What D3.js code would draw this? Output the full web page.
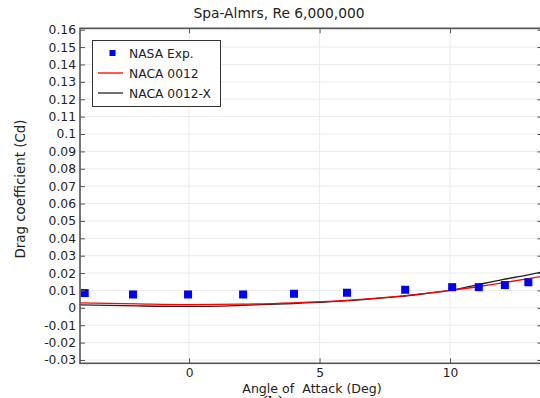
<!DOCTYPE html>
<html><head><meta charset="utf-8">
<script src="https://cdn.jsdelivr.net/npm/d3@7"></script>
<style>body{margin:0;background:#fff}svg{display:block}text{font-family:"DejaVu Sans",sans-serif;fill:#222}</style>
</head><body><svg id="c" width="540" height="398"></svg>
<script>
const expAngle = [-4.0, -2.15, -0.04, 2.07, 4.02, 6.05, 8.28, 10.08, 11.1, 12.1, 13.0];
const expCd    = [0.0085, 0.0077, 0.0077, 0.0077, 0.0081, 0.0087, 0.0104, 0.0119, 0.0119, 0.0131, 0.0147];
const lineAngle = [-4.18, -2, 0, 2, 4, 6, 8, 9, 10, 11, 12, 13, 13.5];
const naca0012  = [0.0029, 0.0023, 0.0019, 0.0021, 0.0029, 0.0043, 0.0066, 0.0082, 0.0100, 0.0120, 0.0143, 0.0168, 0.0181];
const naca0012X = [0.0017, 0.0011, 0.0008, 0.0014, 0.0025, 0.0040, 0.0064, 0.0081, 0.0100, 0.0131, 0.0162, 0.0190, 0.0206];
const xTicks = [0, 5, 10];
const yTicks = [-0.03,-0.02,-0.01,0,0.01,0.02,0.03,0.04,0.05,0.06,0.07,0.08,0.09,0.1,0.11,0.12,0.13,0.14,0.15,0.16];
const yTickLabels = ["-0.03","-0.02","-0.01","0","0.01","0.02","0.03","0.04","0.05","0.06","0.07","0.08","0.09","0.1","0.11","0.12","0.13","0.14","0.15","0.16"];
const legendLabels = ["NASA Exp.", "NACA 0012", "NACA 0012-X"];

const svg = d3.select("#c");
const L = 80, R = 541.4, T = 28.3, B = 363.3;
const x = d3.scaleLinear().domain([-4.18, 13.5]).range([L, R]);
const y = d3.scaleLinear().domain([-0.0319, 0.1608]).range([B, T]);

// grid
const g = svg.append("g");
g.selectAll(".gx").data(xTicks).enter().append("line")
  .attr("x1", d => x(d)).attr("x2", d => x(d)).attr("y1", T).attr("y2", B)
  .attr("stroke", "#ebebeb").attr("stroke-width", 1);
g.selectAll(".gy").data(yTicks).enter().append("line")
  .attr("x1", L).attr("x2", R).attr("y1", d => y(d)).attr("y2", d => y(d))
  .attr("stroke", "#ebebeb").attr("stroke-width", 1);

// lines
const line = d3.line().x((d, i) => x(lineAngle[i])).y(d => y(d)).curve(d3.curveMonotoneX);
svg.append("path").datum(naca0012X).attr("d", line).attr("fill", "none").attr("stroke", "#222").attr("stroke-width", 1.3);
svg.append("path").datum(naca0012).attr("d", line).attr("fill", "none").attr("stroke", "#ff0000").attr("stroke-width", 1.3);

// points
svg.selectAll(".pt").data(expCd).enter().append("rect")
  .attr("x", (d, i) => x(expAngle[i]) - 4).attr("y", d => y(d) - 4)
  .attr("width", 8).attr("height", 8).attr("fill", "#0000ff");

// axes
const axisCol = "#555";
const yAxis = d3.axisLeft(y).tickValues(yTicks).tickFormat((d, i) => yTickLabels[i]).tickSize(-5).tickPadding(4);
const ya = svg.append("g").attr("transform", `translate(${L},0)`).call(yAxis);
const yaR = svg.append("g").attr("transform", `translate(${R},0)`).call(d3.axisRight(y).tickValues(yTicks).tickFormat("").tickSize(-4));
const xAxis = d3.axisBottom(x).tickValues(xTicks).tickFormat(d3.format("d")).tickSize(-5).tickPadding(5);
const xa = svg.append("g").attr("transform", `translate(0,${B})`).call(xAxis);
const xaT = svg.append("g").attr("transform", `translate(0,${T})`).call(d3.axisTop(x).tickValues(xTicks).tickFormat("").tickSize(-5));
[ya, yaR, xa, xaT].forEach(a => {
  a.select(".domain").remove();
  a.selectAll("line").attr("stroke", axisCol).attr("stroke-width", 1);
  a.selectAll("text").attr("font-size", 12.3).attr("fill", "#222").attr("font-family", "DejaVu Sans, sans-serif");
});
svg.append("rect").attr("x", L).attr("y", T).attr("width", R - L).attr("height", B - T)
  .attr("fill", "none").attr("stroke", axisCol).attr("stroke-width", 1.6);

// titles
svg.append("text").attr("x", 279).attr("y", 18).attr("text-anchor", "middle").attr("font-size", 13.8).text("Spa-Almrs, Re 6,000,000");
svg.append("text").attr("x", 312).attr("y", 392.5).attr("text-anchor", "middle").attr("font-size", 12.6).attr("xml:space", "preserve").style("white-space", "pre").text("Angle of  Attack (Deg)");
svg.append("text").attr("transform", "translate(25,189) rotate(-90)").attr("text-anchor", "middle").attr("font-size", 13.4).text("Drag coefficient (Cd)");
svg.append("text").attr("x", 273).attr("y", 410).attr("text-anchor", "middle").attr("font-size", 20).style("font-family", "Liberation Serif, serif").style("fill", "#000").text("(b)");

// legend
const lg = svg.append("g");
lg.append("rect").attr("x", 92.5).attr("y", 40.5).attr("width", 128).attr("height", 66).attr("fill", "#fff").attr("stroke", "#333").attr("stroke-width", 1);
const ly = [53, 73, 93];
lg.append("rect").attr("x", 109.5).attr("y", ly[0] - 3).attr("width", 6).attr("height", 6).attr("fill", "#0000ff");
lg.append("line").attr("x1", 98).attr("x2", 123).attr("y1", ly[1]).attr("y2", ly[1]).attr("stroke", "#ff0000").attr("stroke-width", 1.3);
lg.append("line").attr("x1", 98).attr("x2", 123).attr("y1", ly[2]).attr("y2", ly[2]).attr("stroke", "#222").attr("stroke-width", 1.3);
lg.selectAll(".lt").data(legendLabels).enter().append("text")
  .attr("x", 129).attr("y", (d, i) => ly[i] + 4.5).attr("font-size", 12.3).text(d => d);
</script></body></html>
